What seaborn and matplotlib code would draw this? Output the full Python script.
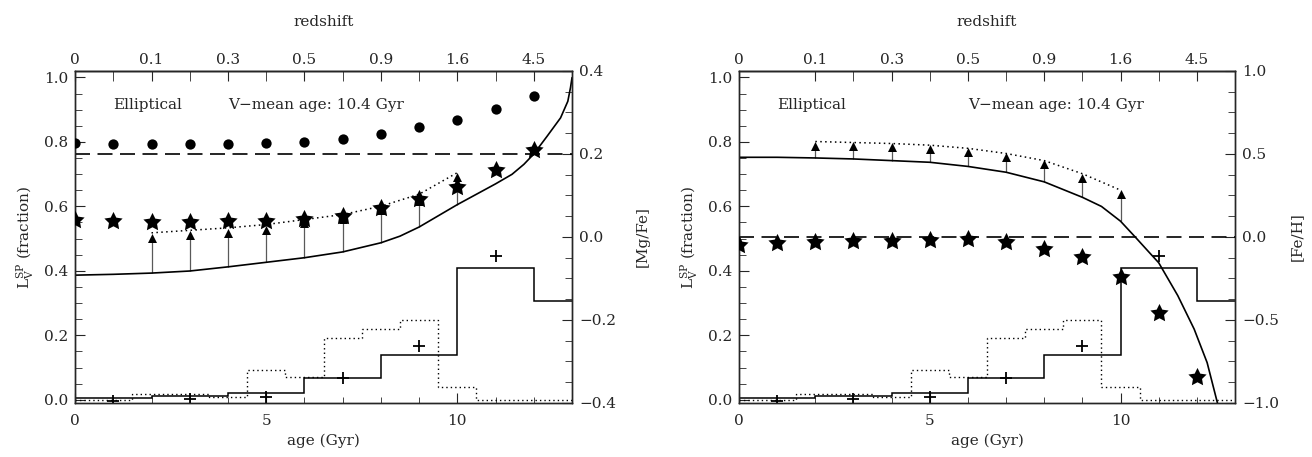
import numpy as np
import matplotlib
matplotlib.use("Agg")
import matplotlib.pyplot as plt
from matplotlib.ticker import MultipleLocator, FixedLocator
import seaborn as sns

# 数据：年龄点与红移刻度
ages = [0, 1, 2, 3, 4, 5, 6, 7, 8, 9, 10, 11, 12]
redshift_ages = [0, 2, 4, 6, 8, 10, 12]
redshift_labels = ['0', '0.1', '0.3', '0.5', '0.9', '1.6', '4.5']

# 光度分数直方图（两幅图相同）
hist_edges = [0, 2, 4, 6, 8, 10, 12, 13]
hist_solid = [0.005, 0.012, 0.021, 0.069, 0.14, 0.409, 0.307]
hist_dot_edges = [0, 1.5, 3.5, 4.5, 5.5, 6.5, 7.5, 8.5, 9.5, 10.5, 13]
hist_dot = [0.0, 0.019, 0.01, 0.091, 0.072, 0.193, 0.22, 0.246, 0.041, 0.0]
cross_age = [1, 3, 5, 7, 9, 11]
cross_frac = [-0.003, 0.003, 0.01, 0.068, 0.168, 0.445]

# 箭头（三角形）所在年龄
tri_age = [2, 3, 4, 5, 6, 7, 8, 9, 10]

# 左图：[Mg/Fe]
mgfe_curve_age = [0, 1, 2, 3, 4, 5, 6, 7, 8, 8.5, 9, 10, 11, 11.43, 11.74,
                  12, 12.35, 12.7, 12.89, 12.96, 13]
mgfe_curve = [-0.092, -0.090, -0.087, -0.082, -0.072, -0.061, -0.050, -0.036,
              -0.014, 0.002, 0.024, 0.078, 0.128, 0.151, 0.175, 0.200, 0.243,
              0.287, 0.327, 0.360, 0.384]
mgfe_circle = [0.227, 0.225, 0.225, 0.225, 0.225, 0.226, 0.228, 0.236, 0.249,
               0.264, 0.283, 0.309, 0.340]
mgfe_star = [0.042, 0.038, 0.036, 0.036, 0.038, 0.038, 0.044, 0.051, 0.070,
             0.092, 0.120, 0.162, 0.210]
mgfe_tri = [-0.002, 0.005, 0.010, 0.018, 0.033, 0.044, 0.066, 0.086, 0.144]
mgfe_dot = [0.010, 0.016, 0.022, 0.030, 0.042, 0.054, 0.074, 0.103, 0.155]
mgfe_base = [-0.087, -0.082, -0.072, -0.061, -0.050, -0.036, -0.014, 0.024, 0.078]

# 右图：[Fe/H]
feh_curve_age = [0, 1, 2, 3, 4, 5, 6, 7, 8, 9, 9.5, 10, 10.4, 10.76, 11,
                 11.5, 11.93, 12.27, 12.54]
feh_curve = [0.480, 0.480, 0.476, 0.470, 0.460, 0.450, 0.425, 0.390, 0.332,
             0.239, 0.184, 0.095, -0.004, -0.095, -0.155, -0.353, -0.555,
             -0.757, -1.0]
feh_star = [-0.049, -0.039, -0.029, -0.025, -0.025, -0.017, -0.014, -0.029,
            -0.074, -0.122, -0.239, -0.460, -0.845]
feh_tri = [0.551, 0.546, 0.540, 0.530, 0.511, 0.480, 0.437, 0.357, 0.258]
feh_dot = [0.575, 0.569, 0.563, 0.553, 0.534, 0.503, 0.460, 0.381, 0.282]
feh_base = [0.476, 0.470, 0.460, 0.450, 0.425, 0.390, 0.332, 0.239, 0.095]

# 粗一点的五角星标记（IDL 风格）
ang = np.pi / 2 + np.arange(10) * np.pi / 5
rad = np.where(np.arange(10) % 2 == 0, 1.0, 0.5)
star_marker = list(zip(rad * np.cos(ang), rad * np.sin(ang)))

# 设置图表样式
sns.set_style("ticks")
plt.rcParams['font.family'] = ['DejaVu Serif']
plt.rcParams['mathtext.fontset'] = 'dejavuserif'
plt.rcParams['axes.linewidth'] = 1.0
plt.rcParams['font.size'] = 11

fig = plt.figure(figsize=(13.12, 4.57), dpi=100)
ax_l = fig.add_axes([0.0572, 0.1182, 0.3788, 0.7265])
ax_r = fig.add_axes([0.5633, 0.1182, 0.3780, 0.7265])


def draw_panel(ax, curve_age, curve, star, tri, dot, base, circle,
               ylim2, major2, minor2, dash_y, label2, pad2, top_minor, text2_x):
    # 直方图与十字点（左轴：光度分数）
    ax.stairs(hist_solid, hist_edges, baseline=None, color='k', lw=1.1)
    ax.stairs(hist_dot, hist_dot_edges, baseline=None, color='k', lw=1.0,
              linestyle=(0, (1, 2.2)))
    sns.scatterplot(x=cross_age, y=cross_frac, marker='+', s=85, color='k',
                    linewidth=1.3, ax=ax, zorder=5)
    ax.set_xlim(0, 13)
    ax.set_ylim(-0.01, 1.02)
    ax.xaxis.set_major_locator(MultipleLocator(5))
    ax.xaxis.set_minor_locator(MultipleLocator(1))
    ax.yaxis.set_minor_locator(MultipleLocator(0.05))
    ax.set_yticks([0, 0.2, 0.4, 0.6, 0.8, 1.0],
                  labels=['0.0', '0.2', '0.4', '0.6', '0.8', '1.0'])
    ax.tick_params(which='both', direction='in', top=False, right=False,
                   labelsize=11)
    ax.tick_params(axis='x', which='major', length=7, pad=8)
    ax.tick_params(axis='x', which='minor', length=4)
    ax.tick_params(axis='y', which='major', length=7, pad=5)
    ax.tick_params(axis='y', which='minor', length=5)
    ax.set_xlabel('age (Gyr)', fontsize=11, labelpad=4)
    ax.set_ylabel(r'$\mathrm{L_V^{SP}}$ (fraction)', fontsize=11, labelpad=6)

    ax.text(1.0, 0.915, 'Elliptical', fontsize=11, va='center')
    ax.text(text2_x, 0.915, 'V\u2212mean age: 10.4 Gyr', fontsize=11, va='center')

    # 右轴：丰度
    ax2 = ax.twinx()
    ax2.set_ylim(*ylim2)
    ax2.axhline(dash_y, color='k', lw=1.2, linestyle=(0, (9, 4.5)))
    ax2.vlines(tri_age, base, tri, color='0.35', lw=0.9)
    sns.lineplot(x=curve_age, y=curve, color='k', lw=1.2, ax=ax2, sort=False)
    sns.lineplot(x=tri_age, y=dot, color='k', lw=1.1, ax=ax2, sort=False,
                 linestyle=(0, (1, 2.2)))
    sns.scatterplot(x=tri_age, y=tri, marker='^', s=42, color='k',
                    linewidth=0, ax=ax2, zorder=6)
    sns.scatterplot(x=ages, y=star, marker=star_marker, s=190, color='k',
                    linewidth=0, ax=ax2, zorder=6)
    if circle is not None:
        sns.scatterplot(x=ages, y=circle, marker='o', s=55, color='k',
                        linewidth=0, ax=ax2, zorder=6)
    ax2.yaxis.set_major_locator(MultipleLocator(major2))
    ax2.yaxis.set_minor_locator(MultipleLocator(minor2))
    ax2.tick_params(which='both', direction='in', labelsize=11)
    ax2.tick_params(which='major', length=7, pad=5)
    ax2.tick_params(which='minor', length=5)
    ax2.set_ylabel(label2, fontsize=11, labelpad=pad2)
    ax2.set_xlim(0, 13)

    # 顶部红移轴
    sec = ax.secondary_xaxis('top')
    sec.set_xticks(redshift_ages, labels=redshift_labels)
    sec.xaxis.set_minor_locator(FixedLocator(top_minor))
    sec.tick_params(which='both', direction='in', labelsize=11, pad=3)
    sec.tick_params(which='major', length=7)
    sec.tick_params(which='minor', length=7)
    sec.set_xlabel('redshift', fontsize=11, labelpad=19)
    return ax2


ax2_l = draw_panel(ax_l, mgfe_curve_age, mgfe_curve, mgfe_star, mgfe_tri,
                   mgfe_dot, mgfe_base, mgfe_circle, (-0.4, 0.4), 0.2, 0.05,
                   0.2, '[Mg/Fe]', 14, [1, 3, 5, 7, 9, 11], 4.0)
ax2_l.set_yticks([-0.4, -0.2, 0.0, 0.2, 0.4],
                 labels=['\u22120.4', '\u22120.2', '0.0', '0.2', '0.4'])

ax2_r = draw_panel(ax_r, feh_curve_age, feh_curve, feh_star, feh_tri,
                   feh_dot, feh_base, None, (-1.0, 1.0), 0.5, 0.125,
                   0.0, '[Fe/H]', 8, [3, 5, 7, 9, 11], 6.0)
ax2_r.set_yticks([-1.0, -0.5, 0.0, 0.5, 1.0],
                 labels=['\u22121.0', '\u22120.5', '0.0', '0.5', '1.0'])

fig.savefig('out.png', dpi=100)
